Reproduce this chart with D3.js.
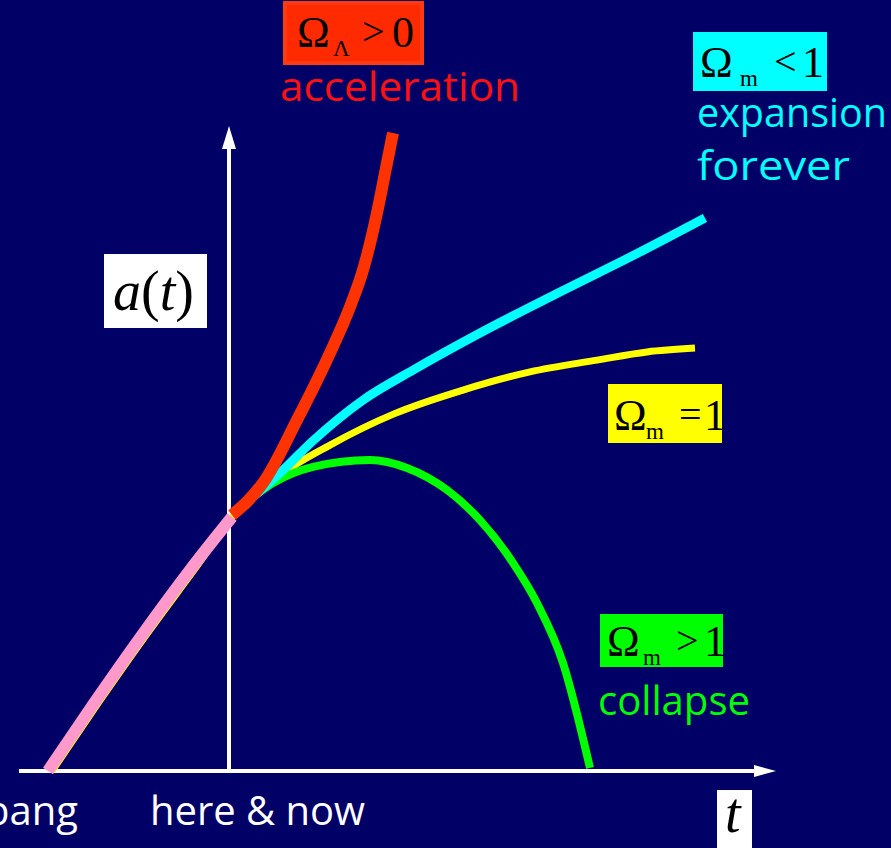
<!DOCTYPE html>
<html><head><meta charset="utf-8">
<script src="https://cdn.jsdelivr.net/npm/d3@7"></script>
<style>html,body{margin:0;padding:0;background:#000066;}svg{display:block;}</style>
</head><body>
<svg id="c" width="891" height="848"></svg>
<script>
// ---- data (t relative to "now", a normalised so a(now)=1) ----
const pinkPast   = [[-3.62,0],[-2.68,0.27],[-1.78,0.52],[-0.78,0.785],[0.06,0.992]];
const yellowFlat = [[-3.54,0],[-2.6,0.27],[-1.7,0.52],[-0.7,0.785],[0.12,1.004],[0.88,1.137],[2.02,1.273],[3.3,1.395],[4.68,1.488],[6.02,1.559],[7.36,1.605],[8.36,1.637],[9.32,1.652]];
const greenClosed= [[0.16,1.02],[0.88,1.125],[1.68,1.188],[2.82,1.215],[3.56,1.184],[4.36,1.098],[5.02,0.98],[5.68,0.813],[6.16,0.656],[6.68,0.422],[7.22,0.012]];
const cyanOpen   = [[0.12,1.012],[0.6,1.09],[1.0,1.16],[1.68,1.29],[2.68,1.449],[3.68,1.566],[5.02,1.711],[6.62,1.871],[8.22,2.027],[9.52,2.16]];
const redLambda  = [[0.06,1.0],[0.36,1.052],[0.68,1.125],[1.36,1.371],[2.02,1.633],[2.42,1.813],[2.68,1.957],[2.96,2.18],[3.16,2.375],[3.28,2.492]];
const axisLabels = ["big bang","here & now"];
const caseLabels = [
  {sub:"Λ", rel:">", val:"0", text:["acceleration"]},
  {sub:"m", rel:"<", val:"1", text:["expansion","forever"]},
  {sub:"m", rel:"=", val:"1", text:[]},
  {sub:"m", rel:">", val:"1", text:["collapse"]}
];

const svg = d3.select("#c");
svg.append("rect").attr("width",891).attr("height",848).attr("fill","#000066");

const x = d3.scaleLinear().domain([0,1]).range([229,279]);
const y = d3.scaleLinear().domain([0,1]).range([771,515]);

// axes
const W="#ffffff";
svg.append("line").attr("x1",19).attr("x2",x(10.7)).attr("y1",y(0)).attr("y2",y(0)).attr("stroke",W).attr("stroke-width",4);
svg.append("path").attr("d",`M${x(10.5)},${y(0)-6}L${x(10.94)},${y(0)}L${x(10.5)},${y(0)+6}Z`).attr("fill",W);
svg.append("line").attr("x1",x(0)).attr("x2",x(0)).attr("y1",y(0)).attr("y2",y(2.47)).attr("stroke",W).attr("stroke-width",4);
svg.append("path").attr("d",`M${x(0)-7},${y(2.43)}L${x(0)},${y(2.52)}L${x(0)+7},${y(2.43)}Z`).attr("fill",W);

const line = d3.line().x(d=>x(d[0])).y(d=>y(d[1])).curve(d3.curveMonotoneX);
function curve(data,color,w){
  svg.append("path").attr("d",line(data)).attr("fill","none").attr("stroke",color).attr("stroke-width",w).attr("stroke-linecap","butt");
}
curve(yellowFlat,"#ffff00",7);
curve(greenClosed,"#00ff00",8);
curve(cyanOpen,"#00ffff",9);
curve(pinkPast,"#ff99cc",12);
curve(redLambda,"#ff3300",12);

// labels
const comic = "'Open Sans',sans-serif";
function ctext(str,xx,yy,color,len,size){
  svg.append("text").attr("x",xx).attr("y",yy).attr("fill",color).attr("font-family",comic).attr("font-weight",500)
    .attr("font-size",size||40).attr("textLength",len).attr("lengthAdjust","spacingAndGlyphs").text(str);
}
ctext(axisLabels[1],150,825,W,215);
svg.append("text").attr("x",78).attr("y",825).attr("fill",W).attr("font-family",comic).attr("font-weight",500).attr("font-size",40)
  .attr("text-anchor","end").text(axisLabels[0]);

// omega boxes
const boxes = [
  {bx:285,by:3,bw:137,bh:60,fill:"#ff2a00",stroke:"#ff3a10",ox:297,base:47,sx:333,relx:362,valx:392,tc:"#ff1010",tx:280,ty:[101],tl:[240]},
  {bx:693,by:32,bw:134,bh:59,fill:"#00ffff",ox:700,base:77,sx:740,relx:774,valx:802,tc:"#00ffff",tx:697,ty:[127,180],tl:[190,153]},
  {bx:608,by:384,bw:114,bh:59,fill:"#ffff00",ox:614,base:430,sx:646,relx:679,valx:704,tc:"#ffff00",tx:0,ty:[],tl:[]},
  {bx:600,by:614,bw:123,bh:53,fill:"#00ff00",ox:607,base:656,sx:643,relx:676,valx:704,tc:"#00ff00",tx:598,ty:[715],tl:[152]}
];
boxes.forEach((b,i)=>{
  const c = caseLabels[i];
  svg.append("rect").attr("x",b.bx).attr("y",b.by).attr("width",b.bw).attr("height",b.bh).attr("fill",b.fill)
    .attr("stroke",b.stroke||"none").attr("stroke-width",b.stroke?4:0);
  const g = svg.append("g").attr("font-family","'Liberation Serif','Times New Roman',serif").attr("fill","#000");
  g.append("text").attr("x",b.ox).attr("y",b.base).attr("font-size",44).text("Ω");
  g.append("text").attr("x",b.sx).attr("y",b.base+9).attr("font-size",23).text(c.sub);
  g.append("text").attr("x",b.relx).attr("y",b.base-2).attr("font-size",40).text(c.rel);
  g.append("text").attr("x",b.valx).attr("y",b.base).attr("font-size",44).text(c.val);
  c.text.forEach((t,j)=>ctext(t,b.tx,b.ty[j],b.tc,b.tl[j]));
});

// a(t) box
svg.append("rect").attr("x",104).attr("y",254).attr("width",103).attr("height",74).attr("fill","#fff");
const at = svg.append("text").attr("x",113).attr("y",310).attr("font-family","'Liberation Serif','Times New Roman',serif").attr("font-size",56).attr("fill","#000");
at.append("tspan").attr("font-style","italic").text("a");
at.append("tspan").text("(");
at.append("tspan").attr("font-style","italic").text("t");
at.append("tspan").text(")");

// t box
svg.append("rect").attr("x",717).attr("y",790).attr("width",35).attr("height",58).attr("fill","#fff");
svg.append("text").attr("x",725).attr("y",832).attr("font-family","'Liberation Serif','Times New Roman',serif").attr("font-size",56).attr("font-style","italic").attr("fill","#000").text("t");
</script>
</body></html>
